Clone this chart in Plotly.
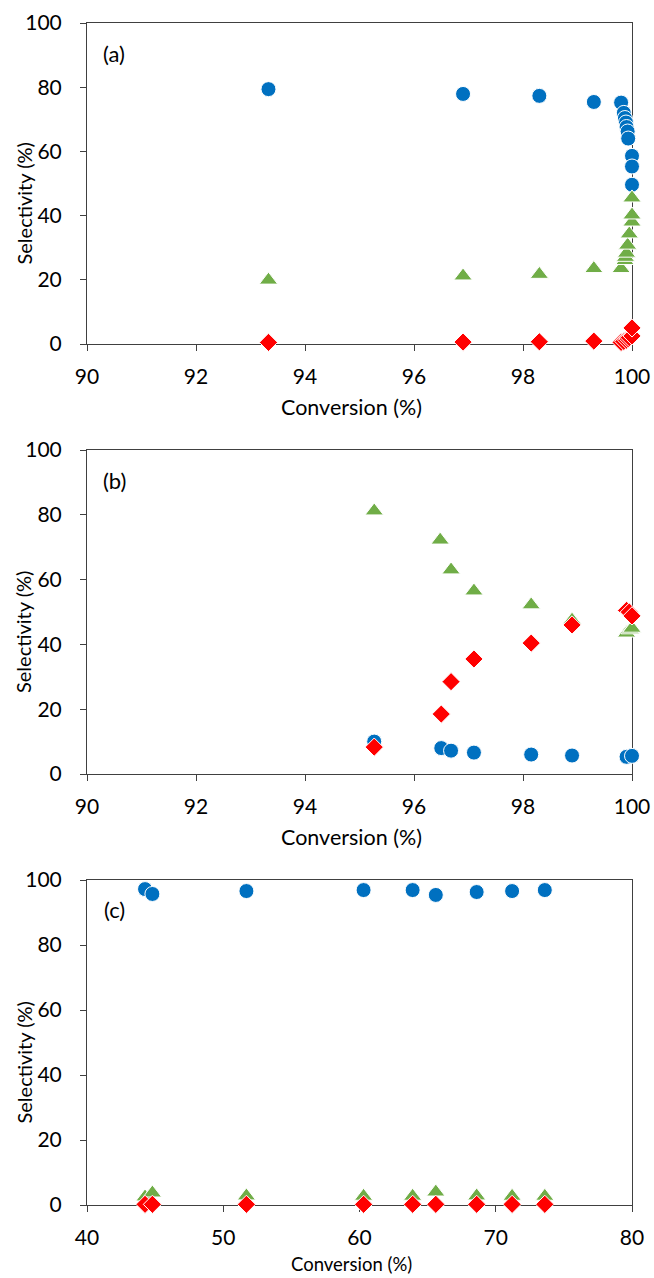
import plotly.graph_objects as go

# ---------------- Data ----------------
# Panel (a)
a_blue_x = [93.33, 96.9, 98.3, 99.3, 99.8, 99.85, 99.87, 99.89, 99.9, 99.92, 99.93, 100.0, 100.0, 100.0]
a_blue_y = [79.4, 77.9, 77.3, 75.4, 75.2, 72.0, 70.4, 69.0, 67.6, 66.2, 64.0, 58.6, 55.3, 49.6]
a_green_x = [93.33, 96.9, 98.3, 99.3, 99.8, 99.87, 99.88, 99.9, 99.92, 99.95, 100.0, 100.0, 100.0]
a_green_y = [19.9, 21.2, 21.7, 23.5, 23.5, 26.0, 27.0, 28.3, 30.8, 34.3, 38.0, 40.2, 45.5]
a_red_x = [93.33, 96.9, 98.3, 99.3, 99.8, 99.85, 99.9, 99.93, 99.95, 100.0, 100.0]
a_red_y = [0.5, 0.6, 0.7, 0.9, 0.5, 0.8, 1.2, 1.6, 2.0, 2.5, 5.0]

# Panel (b)
b_blue_x = [95.27, 96.5, 96.68, 97.1, 98.15, 98.9, 99.9, 100.0]
b_blue_y = [10.0, 8.0, 7.2, 6.6, 6.0, 5.7, 5.3, 5.6]
b_green_x = [95.27, 96.48, 96.68, 97.1, 98.15, 98.9, 99.9, 99.97, 100.0]
b_green_y = [81.2, 72.2, 63.0, 56.5, 52.2, 47.5, 43.5, 44.5, 45.0]
b_red_x = [95.27, 96.5, 96.68, 97.1, 98.15, 98.9, 99.9, 99.95, 100.0]
b_red_y = [8.3, 18.5, 28.5, 35.5, 40.4, 46.0, 50.5, 50.0, 48.8]

# Panel (c)
c_x = [44.26, 44.8, 51.7, 60.3, 63.9, 65.6, 68.6, 71.2, 73.6]
c_blue_y = [97.2, 95.7, 96.6, 96.9, 96.9, 95.4, 96.3, 96.6, 96.9]
c_green_y = [2.5, 3.7, 2.8, 2.7, 2.7, 4.0, 2.8, 2.7, 2.7]
c_red_y = [0.2, 0.2, 0.2, 0.2, 0.2, 0.2, 0.2, 0.2, 0.2]

panel_labels = ["(a)", "(b)", "(c)"]
x_title = "Conversion (%)"
y_title = "Selectivity (%)"

# ---------------- Styling ----------------
W, H = 654, 1278
BLUE, GREEN, RED = "#0070C0", "#70AD47", "#FF0000"
FONT = "Lato, Open Sans, sans-serif"
AXC = "#404040"

fig = go.Figure()

def add(xs, ys, color, symbol, size, ax):
    fig.add_trace(go.Scatter(
        x=xs, y=ys, mode="markers", xaxis="x" + ax, yaxis="y" + ax,
        marker=dict(color=color, symbol=symbol, size=size,
                    line=dict(color="white", width=1)),
        cliponaxis=False, showlegend=False, hoverinfo="x+y"))

panels = [
    ("", a_blue_x, a_blue_y, a_green_x, a_green_y, a_red_x, a_red_y),
    ("2", b_blue_x, b_blue_y, b_green_x, b_green_y, b_red_x, b_red_y),
    ("3", c_x, c_blue_y, c_x, c_green_y, c_x, c_red_y),
]
for ax, bx, by, gx, gy, rx, ry in panels:
    add(bx, by, BLUE, "circle", 15, ax)
    add(gx, gy, GREEN, "triangle-up", 16, ax)
    add(rx, ry, RED, "diamond", 14, ax)

# pixel layout of plot areas (top, bottom)
px_left, px_right = 87, 632
tops = [23, 450, 880]
bottoms = [344, 774, 1205]
xranges = [[90, 100], [90, 100], [40, 80]]
xdticks = [2, 2, 10]
xtitle_sizes = [21.5, 21.5, 18.5]
xtitle_offsets = [63, 63, 59]

def py(p):
    return 1 - p / H

layout = dict(width=W, height=H, margin=dict(l=0, r=0, t=0, b=0, autoexpand=False),
              paper_bgcolor="white", plot_bgcolor="white", template="none",
              font=dict(family=FONT, color="black"))
annotations = []
for i in range(3):
    s = "" if i == 0 else str(i + 1)
    layout["xaxis" + s] = dict(
        domain=[px_left / W, px_right / W], anchor="y" + s, automargin=False,
        range=xranges[i], dtick=xdticks[i], tick0=xranges[i][0],
        showline=True, linecolor=AXC, linewidth=1, mirror=True,
        ticks="outside", ticklen=6, tickcolor=AXC, showgrid=False,
        zeroline=False, layer="below traces", ticklabelstandoff=8,
        tickfont=dict(family=FONT, size=21, color="black"))
    layout["yaxis" + s] = dict(
        domain=[py(bottoms[i]), py(tops[i])], anchor="x" + s, automargin=False,
        range=[0, 100], dtick=20, showline=True, linecolor=AXC, linewidth=1,
        mirror=True, ticks="outside", ticklen=6, tickcolor=AXC,
        showgrid=False, zeroline=False, layer="below traces",
        ticklabelstandoff=14,
        tickfont=dict(family=FONT, size=21, color="black"))
    # panel label
    annotations.append(dict(text=panel_labels[i], xref="paper", yref="paper",
                            x=114 / W, y=py(tops[i] + 30), showarrow=False,
                            xanchor="center", yanchor="middle",
                            font=dict(family=FONT, size=22, color="black")))
    # y title
    mid = (tops[i] + bottoms[i]) / 2 + 20
    annotations.append(dict(text=y_title, xref="paper", yref="paper",
                            x=23 / W, y=py(mid), showarrow=False, textangle=-90,
                            xanchor="center", yanchor="middle",
                            font=dict(family=FONT, size=20, color="black")))
    # x title
    annotations.append(dict(text=x_title, xref="paper", yref="paper",
                            x=((px_left + px_right) / 2 - 8) / W,
                            y=py(bottoms[i] + xtitle_offsets[i]), showarrow=False,
                            xanchor="center", yanchor="middle",
                            font=dict(family=FONT, size=xtitle_sizes[i],
                                      color="black")))
layout["annotations"] = annotations
fig.update_layout(**layout)
fig.write_html("out.html")
